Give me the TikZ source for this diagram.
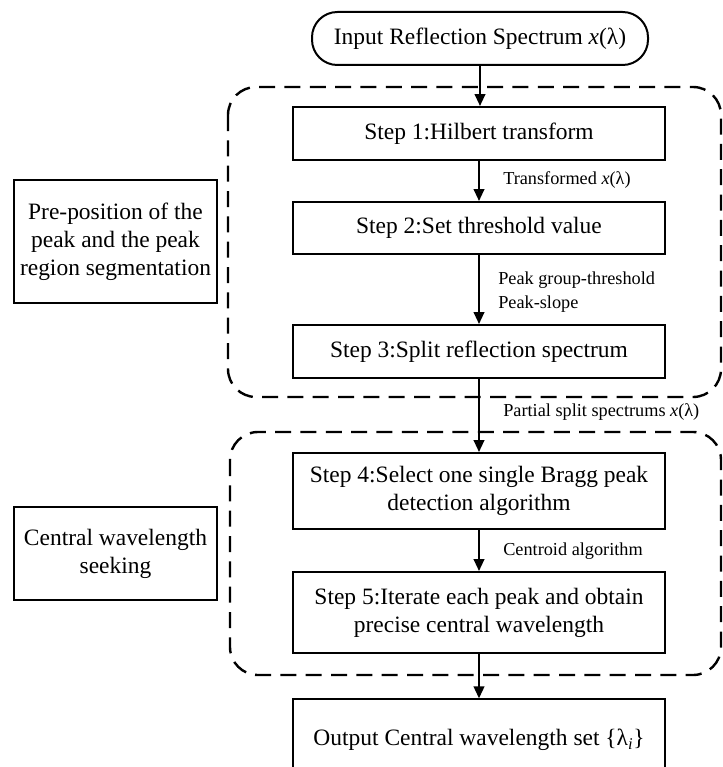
\documentclass[tikz,border=0pt]{standalone}
\usepackage{fontspec}
\setmainfont{Liberation Serif}
\usetikzlibrary{arrows.meta}
\begin{document}
\begin{tikzpicture}[x=0.75pt,y=-0.75pt,
  box/.style={draw,line width=1.5pt,align=center,inner sep=2pt,
    font=\fontsize{17.6}{21}\selectfont},
  stepbox/.style={box,minimum width=279pt},
  sidebox/.style={box,minimum width=152.25pt},
  pill/.style={box,rounded corners=19pt,minimum width=252pt,minimum height=39.75pt},
  lbl/.style={anchor=west,align=left,inner sep=0pt,font=\fontsize{13.7}{18}\selectfont},
  frame/.style={line width=1.8pt,dash pattern=on 12pt off 7pt,rounded corners=21pt},
  flow/.style={line width=1.5pt,-{Triangle[length=9pt,width=8pt]}}]
\useasboundingbox (0,0) rectangle (723,767);
% dashed frames
\draw[frame] (228,87) rectangle (721,397);
\draw[frame] (230,432) rectangle (721,675);
% nodes
\node[pill] (in) at (480,38.5) {Input Reflection Spectrum \textit{x}(λ)};
\node[stepbox,minimum height=39.75pt] (s1) at (479,133.5) {Step 1:Hilbert transform};
\node[stepbox,minimum height=39pt] (s2) at (479,228) {Step 2:Set threshold value};
\node[stepbox,minimum height=39.75pt] (s3) at (479,351.5) {Step 3:Split reflection spectrum};
\node[stepbox,minimum height=57pt] (s4) at (479,491) {Step 4:Select one single Bragg peak\\detection algorithm};
\node[stepbox,minimum height=60.75pt] (s5) at (479,612.5) {Step 5:Iterate each peak and obtain\\precise central wavelength};
\node[stepbox,minimum height=58pt,text depth=1pt] (out) at (479,738) {Output Central wavelength set \{λ\textsubscript{\textit{i}}\}};
\node[sidebox,minimum height=92.25pt] (p1) at (115.5,241.5) {Pre-position of the\\peak and the peak\\region segmentation};
\node[sidebox,minimum height=69.75pt] (p2) at (115.5,553.5) {Central wavelength\\seeking};
% connectors
\draw[flow] (in.south -| 480,0) -- (s1.north -| 480,0);
\draw[flow] (s1) -- (s2);
\draw[flow] (s2) -- (s3);
\draw[flow] (s3) -- (s4);
\draw[flow] (s4) -- (s5);
\draw[flow] (s5) -- (out);
% labels
\node[lbl] (l1) at (503,180) {Transformed \textit{x}(λ)};
\node[lbl] (l2) at (498,292) {Peak group-threshold\\Peak-slope};
\node[lbl] (l3) at (503,412) {Partial split spectrums \textit{x}(λ)};
\node[lbl] (l4) at (503,551) {Centroid algorithm};
\end{tikzpicture}
\end{document}
